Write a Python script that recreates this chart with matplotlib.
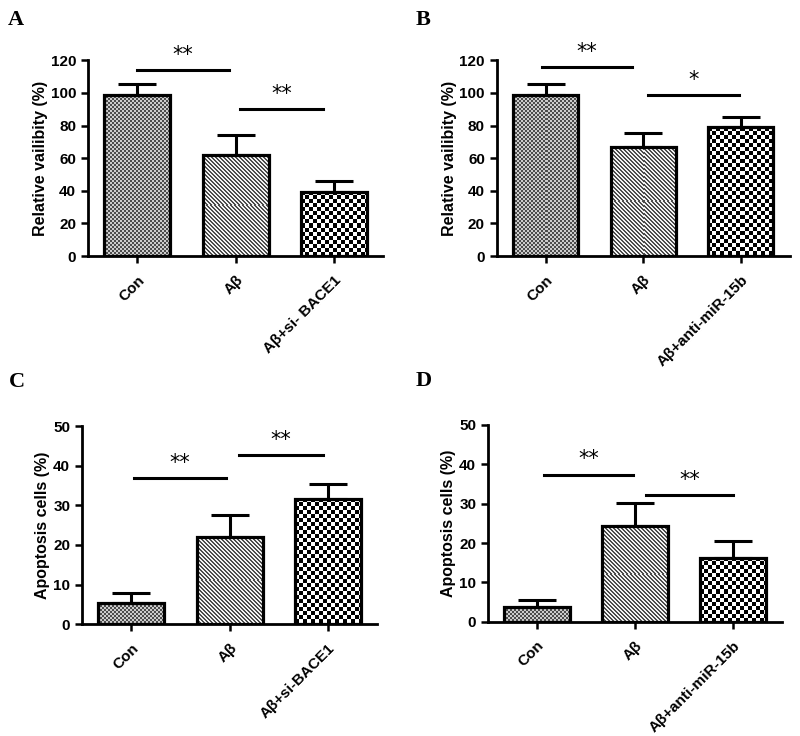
import numpy as np
import matplotlib
matplotlib.use('Agg')
import matplotlib.pyplot as plt

plt.rcParams['font.family'] = ['Liberation Sans', 'DejaVu Sans']
plt.rcParams['font.weight'] = 'bold'

## data
labels_a = ['Con', 'Aβ', 'Aβ+si- BACE1']
labels_b = ['Con', 'Aβ', 'Aβ+anti-miR-15b']
labels_c = ['Con', 'Aβ', 'Aβ+si-BACE1']
labels_d = ['Con', 'Aβ', 'Aβ+anti-miR-15b']

viab_a = [99, 62, 39.5]
viab_a_err = [6.5, 12.5, 6.5]
viab_b = [99, 67, 79]
viab_b_err = [6.5, 8.3, 6]
apop_c = [5.3, 22, 31.6]
apop_c_err = [2.5, 5.5, 3.8]
apop_d = [3.8, 24.2, 16.3]
apop_d_err = [1.8, 6, 4.1]

# significance bars: (x start, x end, height, stars)
sig_a = [(0.0, 0.93, 114, '**'), (1.04, 1.89, 90, '**')]
sig_b = [(-0.04, 0.89, 115.7, '**'), (1.05, 1.98, 98.6, '*')]
sig_c = [(0.03, 0.96, 36.9, '**'), (1.1, 1.95, 42.7, '**')]
sig_d = [(0.07, 0.98, 37.3, '**'), (1.11, 2.0, 32.2, '**')]

patterns = ['fine', 'diag', 'checker']


def fill_pattern(ax, bar, kind):
    # paint the bar with a pixel pattern like the GraphPad fills
    x0, y0 = bar.get_x(), bar.get_y()
    w, h = bar.get_width(), bar.get_height()
    p0 = ax.transData.transform((x0, y0))
    p1 = ax.transData.transform((x0 + w, y0 + h))
    nx = max(int(round(p1[0] - p0[0])), 1)
    ny = max(int(round(p1[1] - p0[1])), 1)
    r, c = np.mgrid[0:ny, 0:nx]
    if kind == 'fine':
        pat = ((r // 2 + c // 2) % 2) * 0.5 + 0.3
    elif kind == 'diag':
        pat = (((r - c) % 4) < 2) * 0.65 + 0.3
    else:
        pat = ((r // 4 + c // 4) % 2) * 1.0
    ax.imshow(pat, cmap='gray', vmin=0, vmax=1, extent=(x0, x0 + w, y0, y0 + h),
              origin='upper', interpolation='nearest', aspect='auto', zorder=1)


def panel(ax, labels, means, errs, sigs, ymax, ystep, ylabel):
    x = np.arange(len(labels))
    ax.set_xlim(-0.5, 2.5)
    ax.set_ylim(0, ymax)
    bars = ax.bar(x, means, width=0.67, facecolor='none', edgecolor='black',
                  linewidth=2.3, zorder=2)
    for b, k in zip(bars, patterns):
        fill_pattern(ax, b, k)
    ax.set_xlim(-0.5, 2.5)
    ax.set_ylim(0, ymax)
    ax.errorbar(x, means, yerr=[np.zeros(len(errs)), errs], fmt='none',
                ecolor='black', elinewidth=2.2, capsize=13.5, capthick=2.2, zorder=3)
    for x1, x2, h, s in sigs:
        ax.plot([x1, x2], [h, h], color='black', lw=2.2, clip_on=False)
        ax.annotate(s, ((x1 + x2) / 2, h), xytext=(0, 11), textcoords='offset points',
                    ha='center', va='center', fontsize=15, fontweight='normal',
                    family='DejaVu Sans')
    ax.set_yticks(np.arange(0, ymax + 1, ystep))
    ax.set_xticks(x)
    ax.set_xticklabels(labels, rotation=45, ha='right', rotation_mode='anchor')
    ax.tick_params(width=1.8, length=5, labelsize=11)
    ax.tick_params(axis='x', pad=7)
    for sp in ['top', 'right']:
        ax.spines[sp].set_visible(False)
    for sp in ['left', 'bottom']:
        ax.spines[sp].set_linewidth(2)
    ax.set_ylabel(ylabel, fontsize=11.5, fontweight='bold', labelpad=2)


fig = plt.figure(figsize=(8, 7.36), dpi=100)
ax_a = fig.add_axes([0.11, 0.652, 0.369, 0.266])
ax_b = fig.add_axes([0.621, 0.652, 0.366, 0.266])
ax_c = fig.add_axes([0.1025, 0.152, 0.369, 0.269])
ax_d = fig.add_axes([0.61, 0.155, 0.368, 0.268])

panel(ax_a, labels_a, viab_a, viab_a_err, sig_a, 120, 20, 'Relative vailibity (%)')
panel(ax_b, labels_b, viab_b, viab_b_err, sig_b, 120, 20, 'Relative vailibity (%)')
panel(ax_c, labels_c, apop_c, apop_c_err, sig_c, 50, 10, 'Apoptosis cells (%)')
panel(ax_d, labels_d, apop_d, apop_d_err, sig_d, 50, 10, 'Apoptosis cells (%)')

# panel letters
for letter, px, py in [('A', 8, 10), ('B', 416, 10), ('C', 9, 372), ('D', 416, 371)]:
    fig.text(px / 800, 1 - py / 736, letter, fontsize=16, fontweight='bold',
             family='Liberation Serif', va='top', ha='left')

fig.savefig('out.png', dpi=100)
